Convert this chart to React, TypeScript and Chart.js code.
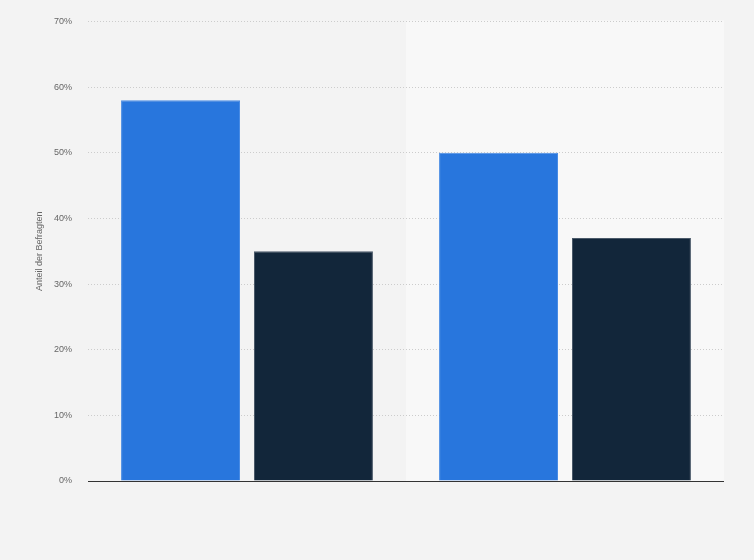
import React, { useEffect, useRef } from "react";
import { Chart, registerables } from "chart.js";

Chart.register(...registerables);

const categories = ["", ""];
const seriesAValues = [58, 50];
const seriesBValues = [35, 37];
const yTicks = [0, 10, 20, 30, 40, 50, 60, 70];

const bandPlugin = {
  id: "bandPlugin",
  beforeDraw(chart: any) {
    const { ctx, chartArea, scales } = chart;
    const x = scales.x;
    if (!x || !chartArea) return;
    const w = x.getPixelForValue(1) - x.getPixelForValue(0);
    const left = x.getPixelForValue(1) - w / 2;
    ctx.save();
    ctx.fillStyle = "#f8f8f8";
    ctx.fillRect(left, chartArea.top - 1, chartArea.right - left, chartArea.bottom - chartArea.top + 1);
    ctx.restore();
  },
  afterDatasetsDraw(chart: any) {
    const { ctx, chartArea, scales } = chart;
    const y = scales.y.getPixelForValue(0);
    ctx.save();
    ctx.strokeStyle = "#333333";
    ctx.lineWidth = 1;
    ctx.beginPath();
    ctx.moveTo(chartArea.left, Math.round(y) + 0.5);
    ctx.lineTo(chartArea.right, Math.round(y) + 0.5);
    ctx.stroke();
    ctx.restore();
  },
};

export default function App() {
  const ref = useRef<HTMLCanvasElement | null>(null);
  useEffect(() => {
    document.body.style.margin = "0";
    if (!ref.current) return;
    const chart = new Chart(ref.current, {
      type: "bar",
      data: {
        labels: categories,
        datasets: [
          {
            data: seriesAValues,
            backgroundColor: "#2876dd",
            borderColor: "#4a8ce4",
            borderWidth: 1,
            categoryPercentage: 0.836,
            barPercentage: 0.895,
          },
          {
            data: seriesBValues,
            backgroundColor: "#12263a",
            borderColor: "#4b5a6a",
            borderWidth: 1,
            categoryPercentage: 0.836,
            barPercentage: 0.895,
          },
        ],
      },
      options: {
        animation: false,
        responsive: false,
        maintainAspectRatio: false,
        layout: { padding: { top: 17, right: 30, bottom: 71, left: 0 } },
        plugins: { legend: { display: false }, tooltip: { enabled: true } },
        scales: {
          x: {
            ticks: { display: false },
            grid: { display: false },
            border: { display: false },
          },
          y: {
            min: 0,
            max: 70,
            afterBuildTicks(scale: any) {
              scale.ticks = yTicks.map((v) => ({ value: v }));
            },
            afterFit(scale: any) {
              scale.width = 88;
            },
            ticks: {
              padding: 16,
              color: "#666666",
              font: { family: "'Liberation Sans', Arial, sans-serif", size: 9 },
              callback: (v: any) => v + "%",
            },
            grid: {
              drawTicks: false,
              color: "#cccccc",
              lineWidth: 1,
            },
            border: { display: false, dash: [1, 2] },
            title: {
              display: true,
              text: "Anteil der Befragten",
              color: "#666666",
              font: { family: "'Liberation Sans', Arial, sans-serif", size: 9 },
              padding: { top: 34, bottom: 0 },
            },
          },
        },
      },
      plugins: [bandPlugin],
    });
    return () => chart.destroy();
  }, []);
  return (
    <div style={{ position: "absolute", left: 0, top: 0, width: 754, height: 560, background: "#f3f3f3" }}>
      <canvas ref={ref} width={754} height={560} style={{ width: 754, height: 560 }} />
    </div>
  );
}
